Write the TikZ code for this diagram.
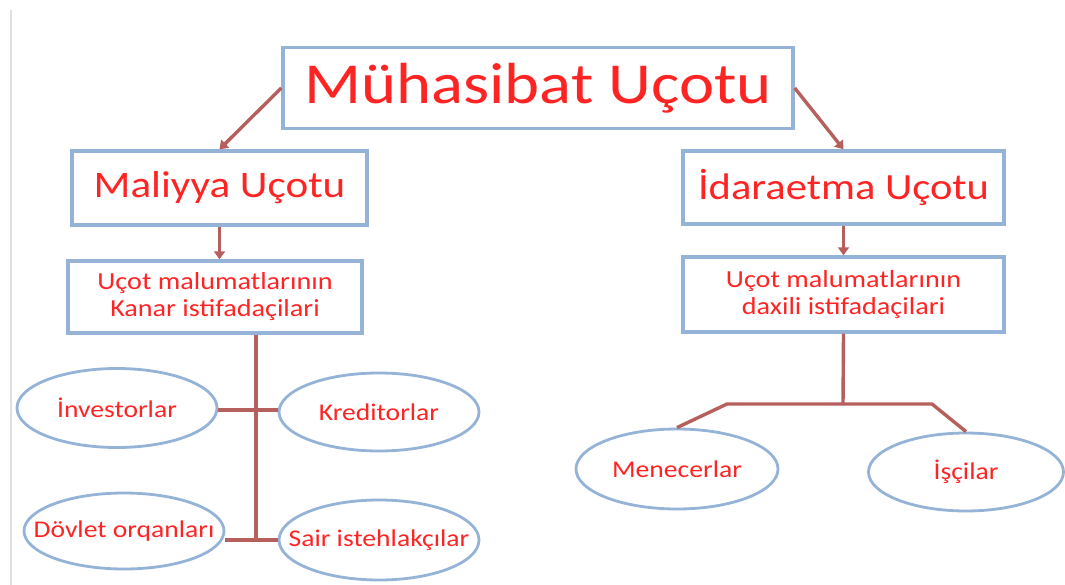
\documentclass[tikz,border=0pt]{standalone}
\usepackage{fontspec}
\setmainfont[FakeStretch=1.15]{Carlito}
\usetikzlibrary{arrows.meta,shapes.geometric}
\definecolor{textred}{HTML}{FF2424}
\definecolor{boxblue}{HTML}{95B3D7}
\definecolor{linered}{HTML}{B5605C}
\tikzset{
	box/.style={rectangle,draw=boxblue,line width=3.4pt,inner sep=0pt,align=center,text=textred},
	oval/.style={ellipse,draw=boxblue,line width=2.8pt,inner xsep=-30pt,inner ysep=0pt,text=textred,font=\fontsize{24}{27}\selectfont},
	link/.style={draw=linered,line width=3.4pt},
	arr/.style={link,-{Triangle[width=11pt,length=8pt]}}
}
\begin{document}
\begin{tikzpicture}[x=1pt,y=-1pt]
	\useasboundingbox (0,0) rectangle (1065,585);
	\draw[black!12,line width=1.5pt] (11,10) -- (11,585);
	\begin{scope}
	\node[box,minimum width=510pt,minimum height=81pt,font=\fontsize{58}{60}\selectfont] (muh) at (538,88) {Mühasibat Uçotu};
	\node[box,minimum width=295pt,minimum height=74pt,font=\fontsize{37.5}{40}\selectfont] (mal) at (219.5,188) {Maliyya Uçotu};
	\node[box,minimum width=321pt,minimum height=73pt,font=\fontsize{37}{40}\selectfont] (ida) at (843.5,187.5) {İdaraetma Uçotu};
	\node[box,minimum width=294pt,minimum height=72pt,font=\fontsize{24.5}{27}\selectfont] (kenar) at (215,297) {Uçot malumatlarının\\Kanar istifadaçilari};
	\node[box,minimum width=321pt,minimum height=75pt,font=\fontsize{24.5}{27}\selectfont] (dax) at (843.5,294.5) {Uçot malumatlarının\\daxili istifadaçilari};
	\end{scope}
	\begin{scope}
	\node[oval,minimum width=200pt,minimum height=79pt] (inv) at (117,408) {İnvestorlar};
	\node[oval,minimum width=200pt,minimum height=78pt] (kred) at (379,412) {Kreditorlar};
	\node[oval,minimum width=200pt,minimum height=76pt] (dov) at (124,531) {Dövlet orqanları};
	\node[oval,minimum width=200pt,minimum height=80pt] (sair) at (379,540) {Sair istehlakçılar};
	\node[oval,minimum width=202pt,minimum height=80pt] (men) at (677,469) {Menecerlar};
	\node[oval,minimum width=195pt,minimum height=78pt] (isc) at (966,472) {İşçilar};
	\end{scope}
	% joints of the connectors
	\coordinate (lt) at (256,540);
	\coordinate (rj) at (843,404);
	\coordinate (rl) at (727,404);
	\coordinate (rr) at (932,404);
	\begin{scope}
		\draw[arr] (muh.west) -- (mal.north);
		\draw[arr] (muh.east) -- (ida.north);
		\draw[arr] (mal.south) -- (mal.south |- kenar.north);
		\draw[arr] (ida.south) -- (dax.north);
		\draw[link] (kenar.south -| lt) -- (lt);
		\draw[link] (kred.west |- 0,410) -- (inv.east |- 0,410);
		\draw[link] (sair.west) -- (sair.west -| dov.east);
		\draw[link] (dax.south) -- (rj);
		\draw[link,line join=round] (men.north) -- (rl) -- (rr) -- (isc.north);
	\end{scope}
\end{tikzpicture}
\end{document}
